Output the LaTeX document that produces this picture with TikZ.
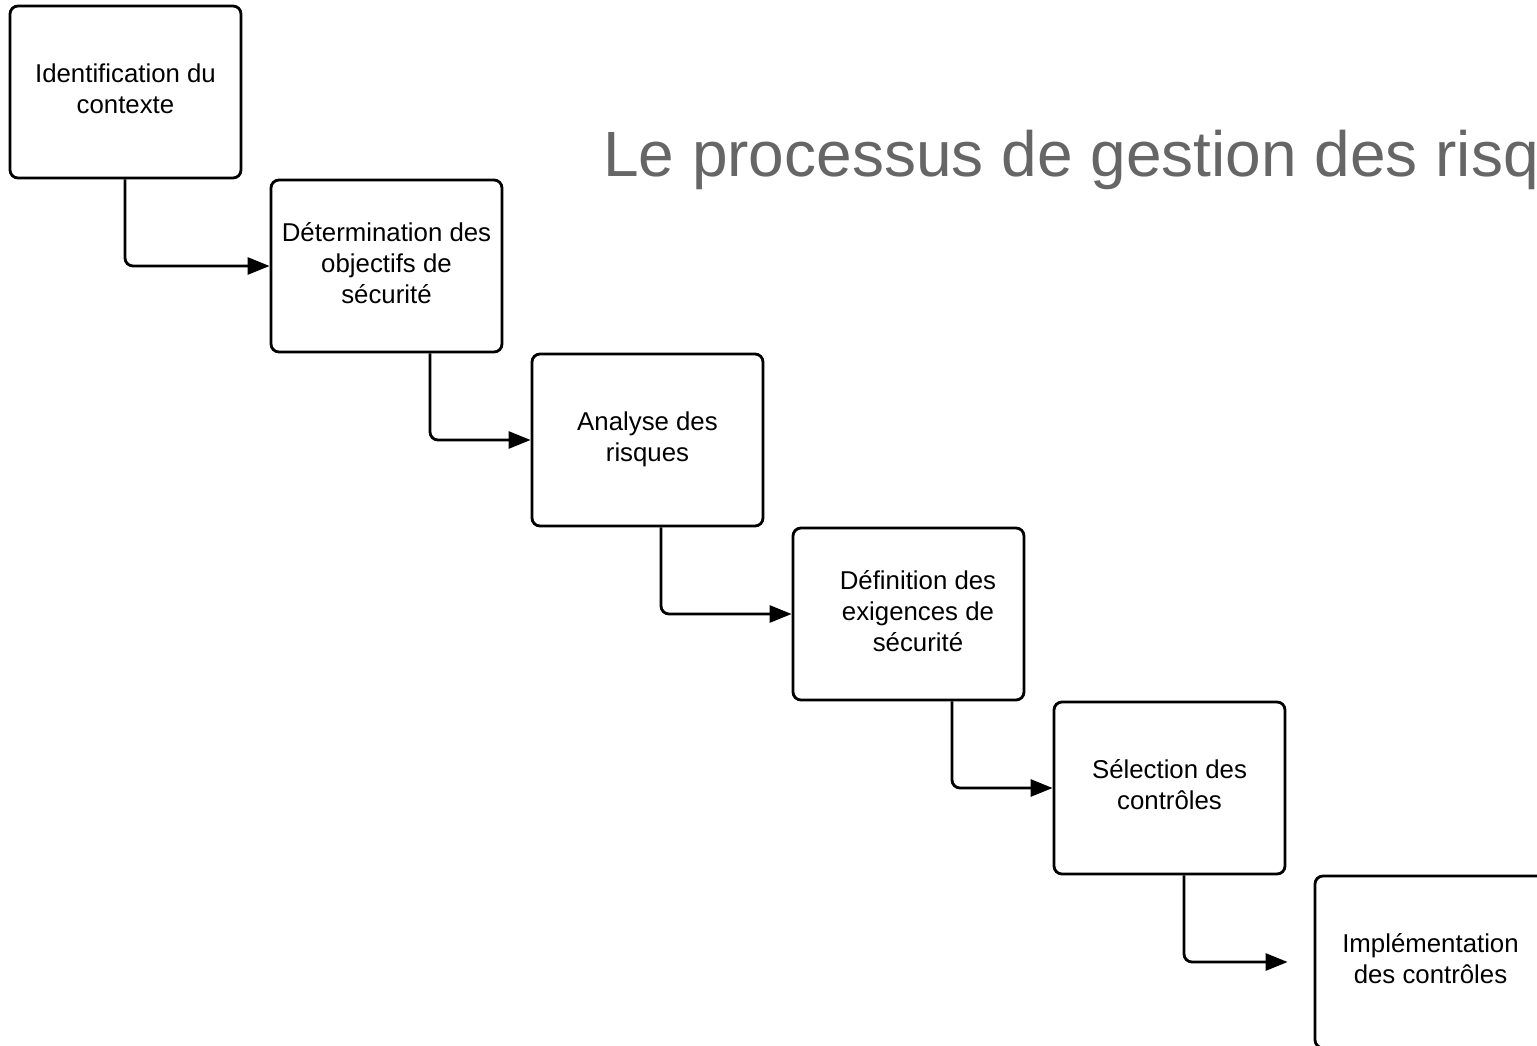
\documentclass[tikz,border=0pt]{standalone}
\usepackage{fontspec}
\setmainfont{Liberation Sans}
\usetikzlibrary{arrows.meta,calc}
\begin{document}
\begin{tikzpicture}[x=1pt,y=-1pt,
  stepbox/.style={draw=black,line width=2.8pt,rounded corners=8pt,minimum width=231pt,minimum height=172pt,
    inner sep=0pt,align=center,font=\fontsize{25.8}{31}\selectfont,anchor=center},
  conn/.style={draw=black,line width=2.8pt,rounded corners=8pt,-{Triangle[length=22pt,width=17pt]}},
]
\useasboundingbox (0,0) rectangle (1537,1046);
\clip (0,0) rectangle (1537,1046);
\node[stepbox] (b1) at (125.5,92) {\raisebox{9pt}{\begin{tabular}{@{}c@{}}Identification du\\contexte\end{tabular}}};
\node[stepbox] (b2) at (386.5,266) {\raisebox{9pt}{\begin{tabular}{@{}c@{}}Détermination des\\objectifs de\\sécurité\end{tabular}}};
\node[stepbox] (b3) at (647.5,440) {\raisebox{9pt}{\begin{tabular}{@{}c@{}}Analyse des\\risques\end{tabular}}};
\node[stepbox] (b4) at (908.5,614) {\hspace*{19pt}\raisebox{9pt}{\begin{tabular}{@{}c@{}}Définition des\\exigences de\\sécurité\end{tabular}}};
\node[stepbox] (b5) at (1169.5,788) {\raisebox{9pt}{\begin{tabular}{@{}c@{}}Sélection des\\contrôles\end{tabular}}};
\node[stepbox] (b6) at (1430.5,962) {\raisebox{9pt}{\begin{tabular}{@{}c@{}}Implémentation\\des contrôles\end{tabular}}};
\node[anchor=base west,inner sep=0pt,text=black!60,font=\fontsize{64}{70}\selectfont] (title) at (603,176) {Le processus de gestion des risq};
\coordinate (e6) at ([xshift=-26pt]b6.west);
\draw[conn] ([xshift=-0.5pt]b1.south) |- (b2.west);
\draw[conn] ([xshift=43.5pt]b2.south) |- (b3.west);
\draw[conn] ([xshift=13.5pt]b3.south) |- (b4.west);
\draw[conn] ([xshift=43.5pt]b4.south) |- (b5.west);
\draw[conn] ([xshift=14.5pt]b5.south) |- (e6);
\end{tikzpicture}
\end{document}
